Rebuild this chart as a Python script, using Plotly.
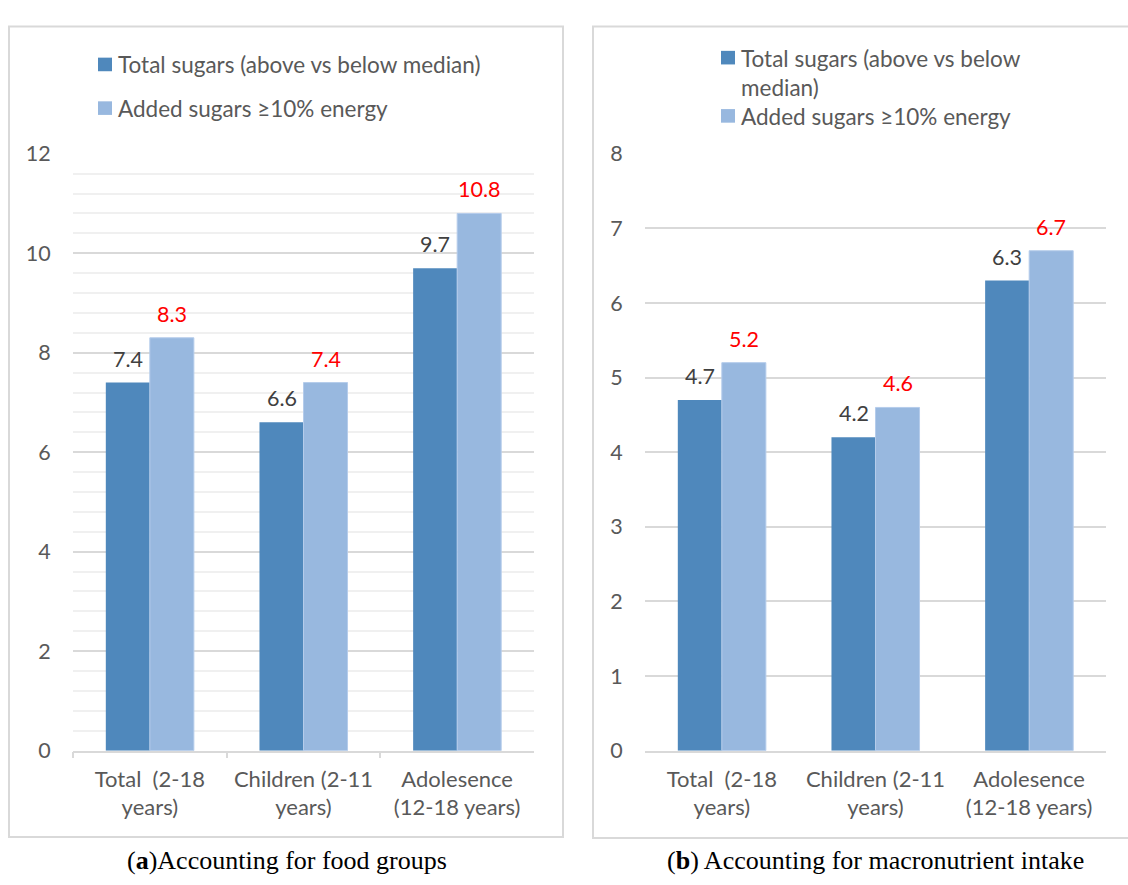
import plotly.graph_objects as go

# ---- data ----
categories = ["Total  (2-18<br>years)", "Children (2-11<br>years)", "Adolesence<br>(12-18 years)"]
series_names = ["Total sugars (above vs below median)", "Added sugars \u226510% energy"]
series_names_b = ["Total sugars (above vs below<br>median)", "Added sugars \u226510% energy"]
food_total = [7.4, 6.6, 9.7]
food_added = [8.3, 7.4, 10.8]
macro_total = [4.7, 4.2, 6.3]
macro_added = [5.2, 4.6, 6.7]
caption_a = "(<b>a</b>)Accounting for food groups"
caption_b = "(<b>b</b>) Accounting for macronutrient intake"

W, H = 1128, 885
FONT = "Lato"
C_DARK = "#4f88bc"
C_LIGHT = "#98b8df"
C_TEXT = "#595959"
C_GRID = "#d9d9d9"
C_MINOR = "#f0f0f0"

def px(x):
    return x / W

def py(y):
    return 1 - y / H

fig = go.Figure()

for xa, ya, tot, add in [("x", "y", food_total, food_added), ("x2", "y2", macro_total, macro_added)]:
    fig.add_trace(go.Bar(x=categories, y=tot, name=series_names[0], marker_color=C_DARK,
                         marker_line_width=0, xaxis=xa, yaxis=ya, showlegend=False))
    fig.add_trace(go.Bar(x=categories, y=add, name=series_names[1], marker_color=C_LIGHT,
                         marker_line=dict(color="#b5cceb", width=1), xaxis=xa, yaxis=ya, showlegend=False))

annotations = []
for xr, yr, tot, add in [("x", "y", food_total, food_added), ("x2", "y2", macro_total, macro_added)]:
    for c, v in zip(categories, tot):
        annotations.append(dict(x=c, y=v, xref=xr, yref=yr, text=f"{v:.1f}", showarrow=False,
                                xshift=-22, yshift=24, font=dict(family=FONT, size=21.5, color="#404040")))
    for c, v in zip(categories, add):
        annotations.append(dict(x=c, y=v, xref=xr, yref=yr, text=f"{v:.1f}", showarrow=False,
                                xshift=22, yshift=24, font=dict(family=FONT, size=21.5, color="#ff0000")))

shapes = []
# panel borders
shapes.append(dict(type="rect", xref="paper", yref="paper", x0=px(9), x1=px(563), y0=py(849), y1=py(14),
                   line=dict(color=C_GRID, width=2)))
shapes.append(dict(type="rect", xref="paper", yref="paper", x0=px(593), x1=px(1140), y0=py(850), y1=py(14),
                   line=dict(color=C_GRID, width=2)))

# legends
legend_a = [(series_names[0], C_DARK, 98, 53), (series_names[1], C_LIGHT, 98, 98)]
legend_b = [(series_names_b[0], C_DARK, 721, 46), (series_names_b[1], C_LIGHT, 721, 106)]
for name, col, lx, ly in legend_a + legend_b:
    shapes.append(dict(type="rect", xref="paper", yref="paper", x0=px(lx), x1=px(lx + 14),
                       y0=py(ly + 7), y1=py(ly - 7), fillcolor=col, line=dict(width=0)))
    annotations.append(dict(x=px(lx + 18), y=py(ly - 15.5), xref="paper", yref="paper", text=name,
                            showarrow=False, xanchor="left", yanchor="top", align="left",
                            font=dict(family=FONT, size=22.5, color=C_TEXT)))

# captions
annotations.append(dict(x=px(287), y=py(873), xref="paper", yref="paper", text=caption_a, showarrow=False,
                        xanchor="center", yanchor="middle",
                        font=dict(family="Liberation Serif", size=26, color="#000000")))
annotations.append(dict(x=px(875), y=py(873), xref="paper", yref="paper", text=caption_b, showarrow=False,
                        xanchor="center", yanchor="middle",
                        font=dict(family="Liberation Serif", size=26, color="#000000")))

xcommon = dict(type="category", showgrid=False, showline=True, linecolor=C_GRID, linewidth=1.5,
               tickfont=dict(family=FONT, size=22, color=C_TEXT), zeroline=False, fixedrange=True)
ycommon = dict(showgrid=True, gridcolor=C_GRID, gridwidth=1.5, zeroline=False, showline=False,
               ticks="outside", ticklen=17, tickcolor="rgba(0,0,0,0)",
               tickfont=dict(family=FONT, size=21.5, color=C_TEXT))

fig.update_layout(
    width=W, height=H, margin=dict(l=0, r=0, t=0, b=0),
    paper_bgcolor="white", plot_bgcolor="white",
    barmode="group", bargap=0.427, bargroupgap=0,
    showlegend=False,
    xaxis=dict(domain=[px(73), px(534)], anchor="y", ticks="outside", tickson="boundaries",
               ticklen=6, tickcolor=C_GRID, tickwidth=1.5, ticklabelstandoff=8, **xcommon),
    yaxis=dict(domain=[py(760), py(145)], anchor="x", range=[0, 12], dtick=2,
               minor=dict(dtick=0.4, showgrid=True, gridcolor=C_MINOR, gridwidth=1.5), **ycommon),
    xaxis2=dict(domain=[px(645), px(1106)], anchor="y2", ticks="outside", ticklen=6,
                tickcolor="rgba(0,0,0,0)", ticklabelstandoff=2, **xcommon),
    yaxis2=dict(domain=[py(760), py(145)], anchor="x2", range=[0, 8], dtick=1, **ycommon),
    shapes=shapes,
    annotations=annotations,
)

fig.write_html("out.html")
